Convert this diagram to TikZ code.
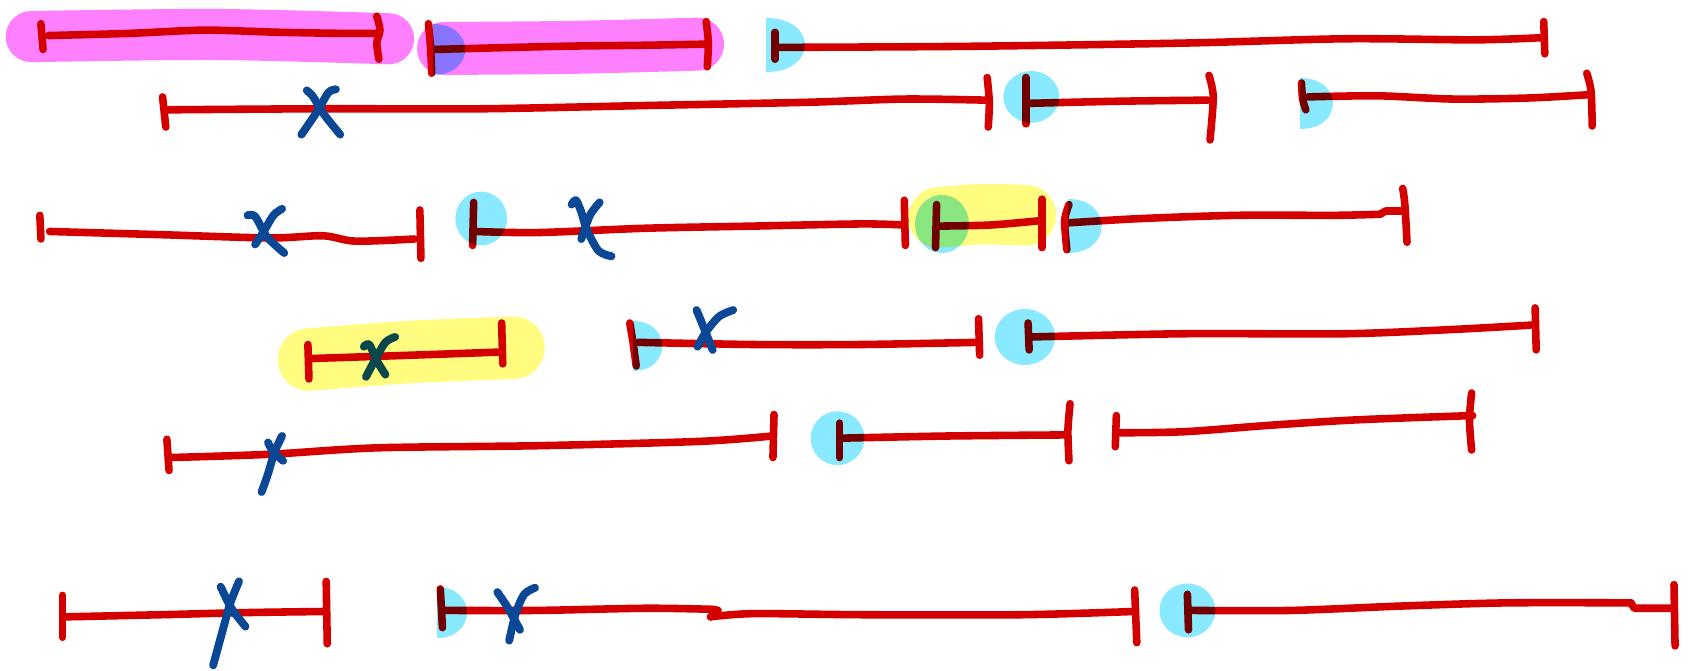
\documentclass[tikz,border=0pt]{standalone}
\usepackage{tikz}
\usepackage{xcolor}
\definecolor{inkred}{RGB}{212,0,0}
\definecolor{inkblue}{RGB}{10,72,150}
\definecolor{hlcyan}{RGB}{137,233,255}
\definecolor{hlpink}{RGB}{255,128,255}
\definecolor{hlyellow}{RGB}{255,252,128}

\begin{document}
\begin{tikzpicture}[x=0.01cm, y=-0.01cm,
        seg/.style={inkred, line width=2pt, line cap=round, line join=round},
        cross/.style={inkblue, line width=2.1pt, line cap=round, line join=round},
        marker/.style={line width=#1, line cap=round, blend mode=multiply},
        dot/.style={fill=hlcyan, blend mode=multiply}
    ]
    \useasboundingbox (0,0) rectangle (1568,623);

    % Row 1
    \draw[seg] (38,22) -- (40,46);
    \draw[seg] plot[smooth] coordinates {(45,33) (120,31) (190,28) (260,30) (320,31) (350,31)};
    \draw[seg] plot[smooth] coordinates {(350,15) (353,28) (350,40) (352,55)};
    \draw[seg] plot[smooth] coordinates {(398,22) (400,45) (401,68)};
    \draw[seg] plot[smooth] coordinates {(400,46) (520,43) (600,42) (655,41)};
    \draw[seg] plot[smooth] coordinates {(656,20) (658,40) (657,62)};
    \draw[seg] (720,30) -- (720,55);
    \draw[seg] plot[smooth] coordinates {(722,44) (900,43) (1100,40) (1250,36) (1370,37) (1432,35)};
    \draw[seg] (1434,20) -- (1435,50);

    % Row 2
    \draw[seg] (151,90) -- (154,118);
    \draw[seg] plot[smooth] coordinates {(156,102) (300,101) (450,101) (600,98) (750,95) (840,92) (915,93)};
    \draw[seg] plot[smooth] coordinates {(917,72) (919,95) (918,118)};
    \draw[cross] plot[smooth] coordinates {(285,84) (291,90) (300,105) (316,125)};
    \draw[cross] plot[smooth] coordinates {(312,83) (305,86) (295,103) (280,125)};
    \draw[seg] (953,72) -- (953,115);
    \draw[seg] plot[smooth] coordinates {(955,96) (1040,94) (1122,93)};
    \draw[seg] plot[smooth] coordinates {(1123,70) (1127,90) (1124,130)};
    \draw[seg] plot[smooth] coordinates {(1209,77) (1210,92) (1213,102)};
    \draw[seg] plot[smooth] coordinates {(1215,90) (1280,89) (1350,92) (1420,91) (1475,88)};
    \draw[seg] plot[smooth] coordinates {(1474,68) (1478,85) (1479,117)};

    % Row 3
    \draw[seg] (37,200) -- (38,222);
    \draw[seg] plot[smooth] coordinates {(46,215) (150,218) (250,221) (300,219) (330,224) (385,222)};
    \draw[seg] (390,195) -- (391,240);
    \draw[cross] plot[smooth] coordinates {(230,200) (237,201) (248,220) (264,235)};
    \draw[cross] plot[smooth] coordinates {(262,194) (254,200) (245,215) (237,227)};
    \draw[seg] (440,188) -- (439,228);
    \draw[seg] plot[smooth] coordinates {(442,215) (500,216) (600,212) (700,210) (800,208) (840,209)};
    \draw[cross] plot[smooth] coordinates {(531,190) (535,186) (540,197) (545,213) (556,233) (568,238)};
    \draw[cross] plot[smooth] coordinates {(557,188) (548,200) (540,222)};
    \draw[seg] (840,186) -- (841,228);
    \draw[seg] (870,190) -- (869,230);
    \draw[seg] plot[smooth] coordinates {(872,210) (920,209) (966,205)};
    \draw[seg] (968,185) -- (968,230);
    \draw[seg] plot[smooth] coordinates {(993,190) (989,205) (991,232)};
    \draw[seg] plot[smooth] coordinates {(992,207) (1060,203) (1150,200) (1240,200) (1282,199)};
    \draw[seg] (1282,199) -- (1287,196) -- (1303,196);
    \draw[seg] plot[smooth] coordinates {(1303,175) (1305,190) (1307,225)};

    % Row 4
    \draw[seg] (286,320) -- (287,352);
    \draw[seg] plot[smooth] coordinates {(290,333) (380,330) (465,327)};
    \draw[seg] (466,300) -- (467,338);
    \draw[cross] plot[smooth] coordinates {(338,322) (343,320) (350,335) (358,348)};
    \draw[cross] plot[smooth] coordinates {(367,313) (358,318) (348,335) (340,350)};
    \draw[seg] plot[smooth] coordinates {(585,300) (588,318) (591,340)};
    \draw[seg] plot[smooth] coordinates {(593,318) (700,320) (800,320) (908,318)};
    \draw[seg] (909,296) -- (910,330);
    \draw[cross] plot[smooth] coordinates {(647,288) (652,300) (662,325)};
    \draw[cross] plot[smooth] coordinates {(681,288) (668,294) (656,308) (648,322)};
    \draw[seg] (955,300) -- (956,325);
    \draw[seg] plot[smooth] coordinates {(958,313) (1100,310) (1250,310) (1350,306) (1422,302)};
    \draw[seg] (1426,286) -- (1427,325);

    % Row 5
    \draw[seg] (155,408) -- (157,437);
    \draw[seg] plot[smooth] coordinates {(158,425) (250,422) (350,416) (500,414) (650,410) (717,405)};
    \draw[seg] (719,385) -- (718,425);
    \draw[cross] plot[smooth] coordinates {(262,405) (255,420) (249,440) (243,457)};
    \draw[cross] plot[smooth] coordinates {(249,411) (254,420) (263,428)};
    \draw[seg] (780,393) -- (780,425);
    \draw[seg] plot[smooth] coordinates {(782,407) (880,405) (988,404)};
    \draw[seg] plot[smooth] coordinates {(994,375) (992,400) (993,428)};
    \draw[seg] (1037,386) -- (1036,415);
    \draw[seg] plot[smooth] coordinates {(1040,402) (1100,401) (1180,395) (1260,390) (1368,386)};
    \draw[seg] plot[smooth] coordinates {(1367,365) (1365,390) (1367,418)};

    % Row 6
    \draw[seg] (58,553) -- (58,592);
    \draw[seg] plot[smooth] coordinates {(60,573) (150,571) (230,569) (302,568)};
    \draw[seg] (303,540) -- (304,598);
    \draw[cross] plot[smooth] coordinates {(205,545) (215,565) (228,582)};
    \draw[cross] plot[smooth] coordinates {(222,540) (214,560) (207,585) (198,618)};
    \draw[seg] (409,547) -- (411,583);
    \draw[seg] plot[smooth] coordinates {(412,567) (500,567) (600,565) (662,566)};
    \draw[seg] (662,566) -- (667,567) -- (660,573);
    \draw[seg] plot[smooth] coordinates {(660,573) (700,570) (800,571) (950,571) (1053,568)};
    \draw[seg] (1054,548) -- (1056,597);
    \draw[cross] plot[smooth] coordinates {(462,550) (472,565) (483,585)};
    \draw[cross] plot[smooth] coordinates {(497,546) (487,552) (479,570) (473,595)};
    \draw[seg] (1103,552) -- (1104,585);
    \draw[seg] plot[smooth] coordinates {(1105,567) (1200,567) (1300,563) (1400,560) (1515,560)};
    \draw[seg] (1515,560) -- (1518,565) -- (1553,565);
    \draw[seg] (1555,543) -- (1556,600);

    % Highlighter strokes on top
    \draw[marker=13.5pt, hlpink] plot[smooth] coordinates {(29,34) (200,32) (361,36)};
    \draw[marker=14pt, hlpink] plot[smooth] coordinates {(412,45) (530,44) (648,41)};
    \draw[marker=16pt, hlyellow] plot[smooth] coordinates {(872,202) (912,199) (953,200)};
    \draw[marker=16.5pt, hlyellow] plot[smooth] coordinates {(287,334) (380,327) (477,323)};

    % Cyan dots at the segment starts
    \fill[dot] (402,22) .. controls (442,22) and (442,70) .. (402,70) -- cycle;
    \fill[dot] (712,17) .. controls (760,17) and (760,67) .. (712,67) -- cycle;
    \fill[dot] (958,90) ellipse[x radius=26, y radius=24];
    \fill[dot] (1208,72) .. controls (1248,72) and (1248,120) .. (1208,120) -- cycle;
    \fill[dot] (447,203) ellipse[x radius=24, y radius=25];
    \fill[dot] (875,208) ellipse[x radius=25, y radius=27];
    \fill[dot] (992,185) .. controls (1034,185) and (1034,235) .. (992,235) -- cycle;
    \fill[dot] (588,298) .. controls (624,298) and (624,345) .. (588,345) -- cycle;
    \fill[dot] (952,313) ellipse[x radius=28, y radius=26];
    \fill[dot] (778,407) ellipse[x radius=25, y radius=25];
    \fill[dot] (406,545) .. controls (443,545) and (443,593) .. (406,593) -- cycle;
    \fill[dot] (1103,567) ellipse[x radius=26, y radius=25];

\end{tikzpicture}
\end{document}
